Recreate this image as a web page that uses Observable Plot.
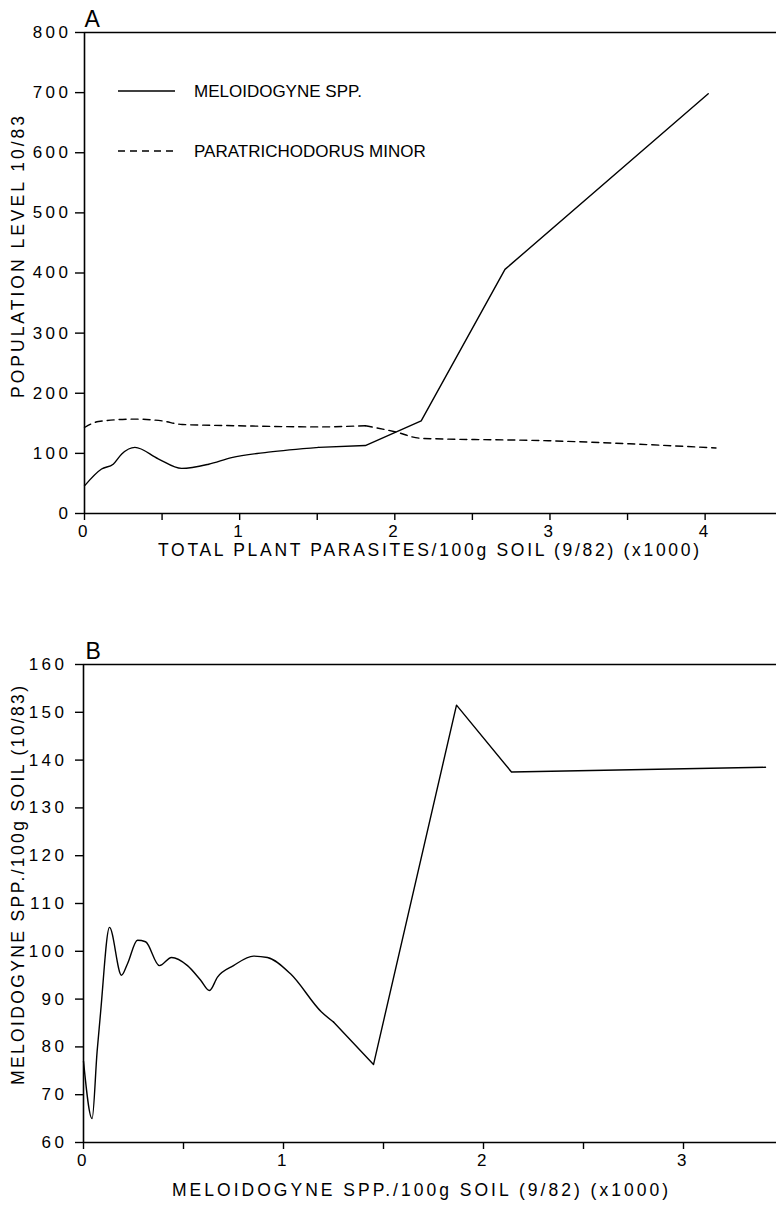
<!DOCTYPE html>
<html><head><meta charset="utf-8">
<script src="https://cdn.jsdelivr.net/npm/d3@7"></script>
<script src="https://cdn.jsdelivr.net/npm/@observablehq/plot@0.6"></script>
<style>
body{margin:0;background:#fff;}
#chart{width:776px;height:1208px;overflow:hidden}
svg{display:block;overflow:visible}
g[aria-label$="tick label"] text{letter-spacing:3.5px}
</style></head><body><div id="chart"></div>
<script>
// ---------- Panel A data ----------
const panelLabelA = "A";
const xTitleA = "TOTAL PLANT PARASITES/100g SOIL (9/82) (x1000)";
const yTitleA = "POPULATION LEVEL 10/83";
const seriesNames = ["MELOIDOGYNE SPP.", "PARATRICHODORUS MINOR"];
const xTicksA = [0, 0.5, 1, 1.5, 2, 2.5, 3, 3.5, 4];
const yTicksA = [0, 100, 200, 300, 400, 500, 600, 700, 800];
const meloA_x = [0, 0.11, 0.185, 0.24, 0.325, 0.475, 0.626, 0.80, 0.948, 1.185, 1.51, 1.81, 2.17, 2.71, 4.02];
const meloA_y = [46, 74, 82, 99, 110, 91, 75, 82, 93, 102, 110, 113, 154, 406, 698];
const paraA_x = [0, 0.09, 0.32, 0.5, 0.63, 0.97, 1.51, 1.81, 2.0, 2.17, 2.99, 4.07];
const paraA_y = [143, 153, 157, 154, 148, 146, 144, 146, 136, 125, 121, 109];

// ---------- Panel B data ----------
const panelLabelB = "B";
const xTitleB = "MELOIDOGYNE SPP./100g SOIL (9/82) (x1000)";
const yTitleB = "MELOIDOGYNE SPP./100g SOIL (10/83)";
const xTicksB = [0, 0.5, 1, 1.5, 2, 2.5, 3];
const yTicksB = [60, 70, 80, 90, 100, 110, 120, 130, 140, 150, 160];
const meloB_x = [0, 0.043, 0.068, 0.085, 0.13, 0.19, 0.22, 0.27, 0.31, 0.38, 0.44, 0.52, 0.585, 0.63, 0.67, 0.75, 0.85, 0.92, 1.035, 1.19, 1.25, 1.45, 1.865, 2.14, 3.41];
const meloB_y = [77, 65, 79, 87, 105, 95, 97.4, 102.3, 102, 97, 98.7, 97, 94, 91.8, 94.6, 97, 99, 98.7, 95.3, 87.3, 85.2, 76.3, 151.5, 137.5, 138.5];

const FONT = "'Liberation Sans', Arial, Helvetica, sans-serif";
const fmtInt = d => Number.isInteger(d) ? String(d) : "";

const toRows = (xs, ys) => xs.map((x, i) => ({x, y: ys[i]}));
const dataMeloA = toRows(meloA_x, meloA_y);
const dataParaA = toRows(paraA_x, paraA_y);
const dataMeloB = toRows(meloB_x, meloB_y);
// smoothed (spline) part and straight part of each trace, split at a shared point
const smooth = (rows, xs) => rows.filter(d => d.x <= xs);
const straight = (rows, xs) => rows.filter(d => d.x >= xs);

const plotA = Plot.plot({
  width: 776, height: 580,
  marginTop: 32, marginBottom: 67, marginLeft: 84, marginRight: 0,
  style: {fontFamily: FONT, fontSize: "17px", color: "#000", background: "#fff"},
  x: {domain: [0, 4.46]},
  y: {domain: [0, 800]},
  marks: [
    Plot.axisX({ticks: xTicksA, tickFormat: fmtInt, tickSize: 7, tickPadding: 4, label: null, strokeWidth: 1.4, fontSize: 17}),
    Plot.axisY({ticks: yTicksA, tickSize: 9, tickPadding: 4, label: null, strokeWidth: 1.4, fontSize: 17}),
    Plot.ruleY([0], {stroke: "#000", strokeWidth: 1.6}),
    Plot.ruleY([800], {stroke: "#000", strokeWidth: 1.6}),
    Plot.ruleX([0], {stroke: "#000", strokeWidth: 1.6}),
    Plot.line(smooth(dataParaA, 1.81), {x: "x", y: "y", curve: "monotone-x", stroke: "#000", strokeWidth: 1.4, strokeDasharray: "7,5"}),
    Plot.line(straight(dataParaA, 1.81), {x: "x", y: "y", curve: "monotone-x", stroke: "#000", strokeWidth: 1.4, strokeDasharray: "7,5"}),
    Plot.line(smooth(dataMeloA, 1.51), {x: "x", y: "y", curve: "monotone-x", stroke: "#000", strokeWidth: 1.4}),
    Plot.line(straight(dataMeloA, 1.51), {x: "x", y: "y", curve: "linear", stroke: "#000", strokeWidth: 1.4}),
    Plot.text([panelLabelA], {frameAnchor: "top-left", text: d => d, textAnchor: "start", lineAnchor: "bottom", dx: 0, dy: -6, fontSize: 23}),
    Plot.text([xTitleA], {frameAnchor: "bottom", text: d => d, textAnchor: "middle", lineAnchor: "middle", dx: -2, dy: 37, fontSize: 17.5}),
    Plot.text([yTitleA], {frameAnchor: "left", text: d => d, textAnchor: "middle", rotate: -90, lineAnchor: "middle", dx: -66, dy: -16, fontSize: 17.5})
  ]
});

const plotB = Plot.plot({
  width: 776, height: 628,
  marginTop: 84, marginBottom: 66, marginLeft: 83, marginRight: 0,
  style: {fontFamily: FONT, fontSize: "17px", color: "#000", background: "#fff"},
  x: {domain: [0, 3.465]},
  y: {domain: [60, 160]},
  marks: [
    Plot.axisX({ticks: xTicksB, tickFormat: fmtInt, tickSize: 7, tickPadding: 4, label: null, strokeWidth: 1.4, fontSize: 17}),
    Plot.axisY({ticks: yTicksB, tickSize: 8, tickPadding: 8, label: null, strokeWidth: 1.4, fontSize: 17}),
    Plot.ruleY([60], {stroke: "#000", strokeWidth: 1.6}),
    Plot.ruleY([160], {stroke: "#000", strokeWidth: 1.6}),
    Plot.ruleX([0], {stroke: "#000", strokeWidth: 1.6}),
    Plot.line(smooth(dataMeloB, 1.25), {x: "x", y: "y", curve: "monotone-x", stroke: "#000", strokeWidth: 1.4}),
    Plot.line(straight(dataMeloB, 1.25), {x: "x", y: "y", curve: "linear", stroke: "#000", strokeWidth: 1.4}),
    Plot.text([panelLabelB], {frameAnchor: "top-left", text: d => d, textAnchor: "start", lineAnchor: "bottom", dx: 2, dy: -6, fontSize: 23}),
    Plot.text([xTitleB], {frameAnchor: "bottom", text: d => d, textAnchor: "middle", lineAnchor: "middle", dx: -10, dy: 48, fontSize: 17.5}),
    Plot.text([yTitleB], {frameAnchor: "left", text: d => d, textAnchor: "middle", rotate: -90, lineAnchor: "middle", dx: -65, dy: -18, fontSize: 17.5})
  ]
});

// Legend for panel A (drawn in pixel space inside the plot area)
const lg = d3.select(plotA).append("g").attr("font-family", FONT).attr("font-size", 17).attr("text-anchor", "start");
[[91, null], [151, "7,5"]].forEach(([y, dash], i) => {
  lg.append("line").attr("x1", 118).attr("x2", 175).attr("y1", y).attr("y2", y)
    .attr("stroke", "#000").attr("stroke-width", 1.4).attr("stroke-dasharray", dash);
  lg.append("text").attr("x", 194).attr("y", y).attr("dy", "0.36em").attr("text-anchor", "start").text(seriesNames[i]);
});

const root = document.getElementById("chart");
root.appendChild(plotA);
root.appendChild(plotB);

// stretch axis titles to the reference widths
function fit(svg, str, w) {
  svg.querySelectorAll("text").forEach(t => {
    if (t.textContent === str) { t.setAttribute("textLength", w); t.setAttribute("lengthAdjust", "spacing"); }
  });
}
fit(plotA, xTitleA, 541);
fit(plotA, yTitleA, 282);
fit(plotB, xTitleB, 496);
fit(plotB, yTitleB, 399);
</script></body></html>
